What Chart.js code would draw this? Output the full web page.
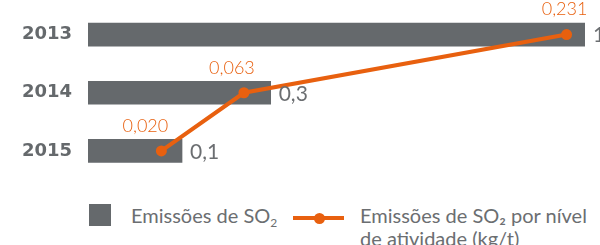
<!DOCTYPE html>
<html>
<head>
  <title>Emissões de SO2</title>
  <style>
    body {
      margin: 0;
      background: #fff;
      font-family: Lato, "Open Sans", sans-serif;
    }
    .wrap {
      position: relative;
      width: 600px;
      height: 245px;
      overflow: hidden;
    }
    .chart-box {
      position: absolute;
      left: 0;
      top: 0;
      width: 600px;
      height: 190px;
    }
    .legend-item {
      position: absolute;
      color: #6b6e71;
      font-size: 20px;
      line-height: 23px;
    }
    .swatch {
      position: absolute;
      left: 89px;
      top: 204px;
      width: 22px;
      height: 22px;
      background: #65696c;
    }
    .line-key {
      position: absolute;
      left: 293px;
      top: 216px;
      width: 51px;
      height: 4px;
      background: #e8600f;
    }
    .line-key::after {
      content: "";
      position: absolute;
      left: 21px;
      top: -3.5px;
      width: 11px;
      height: 11px;
      border-radius: 50%;
      background: #e8600f;
    }
    sub { font-size: 12px; vertical-align: -4px; line-height: 0; }
  </style>
  <script src="https://cdn.jsdelivr.net/npm/chart.js"></script>
</head>
<body>
  <div class="wrap">
    <div class="chart-box"><canvas id="so2Chart"></canvas></div>
    <div class="swatch"></div>
    <div class="legend-item" style="left:131px; top:204px;">Emissões de SO<sub>2</sub></div>
    <div class="line-key"></div>
    <div class="legend-item" style="left:360px; top:204px;">Emissões de SO₂ por nível<br>de atividade (kg/t)</div>
  </div>
  <script>
    // Data
    const years = ['2013', '2014', '2015'];
    const emissions = [0.74, 0.272, 0.14];         // bar lengths (shown rounded)
    const emissionLabels = ['1', '0,3', '0,1'];
    const intensity = [0.231, 0.063, 0.020];       // kg/t
    const intensityLabels = ['0,231', '0,063', '0,020'];

    const grey = '#65696c';
    const orange = '#e8600f';
    const labelShift = [-2, -12, -16];

    // Helper plugin to draw year names and value labels
    const labelPlugin = {
      id: 'labels',
      afterDatasetsDraw(chart) {
        const ctx = chart.ctx;
        ctx.save();
        ctx.textBaseline = 'middle';

        const bars = chart.getDatasetMeta(0).data;
        bars.forEach((bar, i) => {
          ctx.fillStyle = grey;
          ctx.textAlign = 'left';
          ctx.font = 'bold 18px "DejaVu Sans", sans-serif';
          ctx.fillText(years[i], 22, bar.y);

          ctx.fillStyle = '#6b6e71';
          ctx.font = '21px Lato, sans-serif';
          ctx.fillText(emissionLabels[i], bar.x + 8, bar.y + 1);
        });

        const points = chart.getDatasetMeta(1).data;
        points.forEach((pt, i) => {
          ctx.fillStyle = orange;
          ctx.textAlign = 'center';
          ctx.font = '300 18px Lato, sans-serif';
          ctx.fillText(intensityLabels[i], pt.x + labelShift[i], pt.y - 25);
        });
        ctx.restore();
      }
    };

    new Chart(document.getElementById('so2Chart').getContext('2d'), {
      data: {
        labels: years,
        datasets: [
          {
            type: 'bar',
            label: 'Emissões de SO2',
            data: emissions,
            backgroundColor: grey,
            barThickness: 23,
            xAxisID: 'x',
            order: 2
          },
          {
            type: 'line',
            label: 'Emissões de SO2 por nível de atividade (kg/t)',
            data: intensity,
            indexAxis: 'y',
            xAxisID: 'x2',
            borderColor: orange,
            backgroundColor: orange,
            borderWidth: 4,
            pointRadius: 5.5,
            pointHoverRadius: 5.5,
            pointBackgroundColor: orange,
            pointBorderWidth: 0,
            tension: 0,
            clip: false,
            order: 1
          }
        ]
      },
      options: {
        indexAxis: 'y',
        responsive: true,
        maintainAspectRatio: false,
        animation: false,
        layout: { padding: { left: 88, right: 15, top: 0, bottom: 10 } },
        scales: {
          x: { display: false, min: 0, max: 0.74 },
          x2: { display: false, min: -0.0182, max: 0.2406 },
          y: { display: false }
        },
        plugins: {
          legend: { display: false },
          tooltip: { enabled: false }
        }
      },
      plugins: [labelPlugin]
    });
  </script>
</body>
</html>
